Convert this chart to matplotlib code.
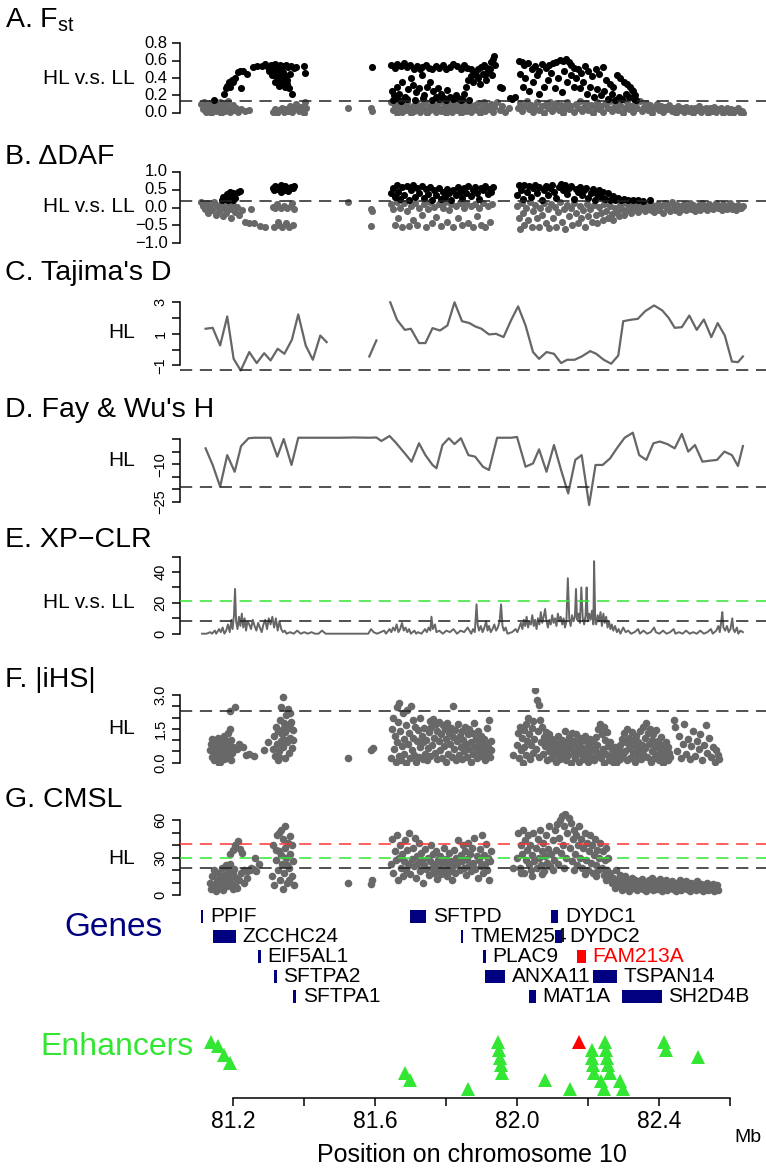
import matplotlib
matplotlib.use("Agg")
import matplotlib.pyplot as plt
from matplotlib.patches import Rectangle

plt.rcParams['font.family'] = ['Liberation Sans', 'DejaVu Sans']
plt.rcParams['mathtext.fontset'] = 'custom'
plt.rcParams['mathtext.rm'] = 'Liberation Sans'

W, H = 766, 1168
XLIM = (81.05, 82.70)
X0, X1 = 180, 766

GRAY = '#686868'
GREEN = '#33e633'
NAVY = '#000080'

# ---------------- A. Fst (HL vs LL) ----------------
fst_hi = [(81.145,0.15),(81.175,0.22),(81.180,0.28),(81.183,0.31),(81.188,0.35),(81.192,0.30),(81.196,0.38),
          (81.200,0.36),(81.205,0.40),(81.212,0.47),(81.218,0.48),(81.222,0.28),(81.228,0.48),(81.240,0.45),
          (81.255,0.53),(81.268,0.54),(81.282,0.54),(81.290,0.56),(81.298,0.53),(81.305,0.55),(81.312,0.54),
          (81.318,0.56),(81.325,0.53),(81.332,0.55),(81.340,0.54),(81.348,0.55),(81.355,0.53),(81.362,0.54),
          (81.370,0.52),(81.378,0.53),(81.300,0.48),(81.308,0.44),(81.315,0.50),(81.320,0.42),(81.325,0.46),
          (81.330,0.38),(81.335,0.40),(81.338,0.34),(81.342,0.36),(81.345,0.30),(81.350,0.33),(81.352,0.38),
          (81.356,0.28),(81.360,0.45),(81.365,0.22),(81.318,0.36),(81.328,0.31),(81.348,0.42),(81.340,0.47),
          (81.330,0.50),(81.400,0.54),(81.402,0.46),(81.590,0.53),
          (81.645,0.55),(81.655,0.52),(81.662,0.56),(81.672,0.54),(81.680,0.57),(81.690,0.53),(81.698,0.55),
          (81.708,0.51),(81.716,0.54),(81.725,0.50),(81.732,0.53),(81.742,0.55),(81.752,0.52),(81.760,0.50),
          (81.770,0.54),(81.780,0.52),(81.790,0.55),(81.800,0.50),(81.810,0.53),(81.820,0.56),(81.830,0.54),
          (81.840,0.51),(81.850,0.55),(81.858,0.52),(81.868,0.50),(81.878,0.47),(81.888,0.50),(81.898,0.53),
          (81.906,0.55),(81.915,0.52),(81.648,0.25),(81.652,0.20),(81.660,0.30),(81.668,0.22),(81.676,0.35),
          (81.684,0.18),(81.692,0.27),(81.700,0.40),(81.706,0.32),(81.714,0.24),(81.722,0.28),(81.730,0.43),
          (81.738,0.20),(81.746,0.30),(81.754,0.36),(81.762,0.25),(81.770,0.18),(81.776,0.29),(81.786,0.22),
          (81.794,0.17),(81.802,0.26),(81.810,0.18),(81.818,0.16),(81.826,0.20),(81.834,0.17),(81.842,0.15),
          (81.850,0.22),(81.856,0.30),(81.862,0.38),(81.870,0.42),(81.876,0.36),(81.884,0.44),(81.890,0.40),
          (81.896,0.33),(81.902,0.45),(81.908,0.43),(81.912,0.38),(81.918,0.48),(81.924,0.50),(81.928,0.44),
          (81.650,0.15),(81.660,0.17),(81.672,0.14),(81.690,0.16),(81.712,0.15),(81.735,0.17),(81.760,0.15),
          (81.780,0.16),(81.800,0.15),(81.822,0.17),(81.845,0.16),(81.865,0.15),(81.930,0.62),(81.934,0.66),
          (81.926,0.58),(81.936,0.55),(81.950,0.30),(81.958,0.28),(81.978,0.17),(81.985,0.16),(81.992,0.18),
          (82.005,0.60),(82.012,0.58),(82.020,0.55),(82.030,0.57),(82.040,0.50),(82.050,0.54),(82.060,0.48),
          (82.070,0.56),(82.080,0.52),(82.090,0.55),(82.100,0.57),(82.110,0.59),(82.120,0.61),(82.128,0.60),
          (82.136,0.62),(82.144,0.58),(82.152,0.55),(82.160,0.52),(82.170,0.50),(82.180,0.46),(82.190,0.54),
          (82.200,0.48),(82.210,0.42),(82.220,0.50),(82.230,0.45),(82.240,0.53),(82.250,0.38),(82.260,0.33),
          (82.270,0.30),(82.280,0.44),(82.290,0.40),(82.300,0.36),(82.310,0.33),(82.318,0.30),(82.325,0.25),
          (82.330,0.20),(82.008,0.45),(82.015,0.30),(82.022,0.40),(82.032,0.25),(82.045,0.35),(82.055,0.44),
          (82.062,0.22),(82.075,0.30),(82.085,0.38),(82.095,0.46),(82.105,0.28),(82.115,0.40),(82.125,0.24),
          (82.132,0.48),(82.140,0.35),(82.150,0.44),(82.158,0.30),(82.165,0.40),(82.175,0.28),(82.185,0.36),
          (82.195,0.22),(82.205,0.30),(82.215,0.18),(82.225,0.27),(82.235,0.20),(82.245,0.25),(82.255,0.16),
          (82.265,0.22),(82.275,0.15),(82.285,0.18),(82.295,0.16),(82.305,0.22),(82.315,0.18),(82.322,0.26),
          (82.328,0.16),(82.335,0.15)]
fst_lo = [(81.110,0.10),(81.114,0.04),(81.118,0.12),(81.122,0.01),(81.126,0.07),(81.130,0.03),(81.134,0.11),
          (81.138,0.00),(81.142,0.06),(81.146,0.13),(81.150,0.02),(81.154,0.08),(81.158,0.04),(81.162,0.12),
          (81.166,0.00),(81.170,0.06),(81.174,0.10),(81.178,0.02),(81.182,0.07),(81.186,0.13),(81.190,0.01),
          (81.194,0.05),(81.198,0.09),(81.202,0.03),(81.208,0.06),(81.214,0.01),(81.222,0.04),(81.232,0.02),
          (81.245,0.03),(81.312,0.01),(81.318,0.04),(81.324,0.00),(81.330,0.03),(81.336,0.06),(81.342,0.01),
          (81.348,0.04),(81.354,0.02),(81.360,0.08),(81.366,0.01),(81.372,0.05),(81.378,0.10),(81.384,0.02),
          (81.390,0.07),(81.396,0.03),(81.402,0.12),(81.406,0.05),(81.400,0.00),(81.523,0.05),(81.587,0.06),
          (81.592,0.02),(81.645,0.12),(81.650,0.03),(81.655,0.08),(81.660,0.00),(81.665,0.10),(81.670,0.05),
          (81.675,0.01),(81.680,0.09),(81.685,0.03),(81.690,0.12),(81.695,0.06),(81.700,0.00),(81.705,0.08),
          (81.710,0.02),(81.715,0.11),(81.720,0.05),(81.725,0.01),(81.730,0.09),(81.735,0.04),(81.740,0.12),
          (81.745,0.00),(81.750,0.07),(81.755,0.03),(81.760,0.10),(81.765,0.05),(81.770,0.01),(81.775,0.08),
          (81.780,0.12),(81.785,0.02),(81.790,0.06),(81.795,0.10),(81.800,0.00),(81.805,0.04),(81.810,0.09),
          (81.815,0.01),(81.820,0.06),(81.825,0.11),(81.830,0.03),(81.835,0.08),(81.840,0.00),(81.845,0.05),
          (81.850,0.12),(81.855,0.02),(81.860,0.07),(81.865,0.10),(81.870,0.01),(81.875,0.05),(81.880,0.09),
          (81.885,0.03),(81.890,0.11),(81.895,0.00),(81.900,0.06),(81.905,0.12),(81.910,0.02),(81.915,0.08),
          (81.920,0.04),(81.925,0.10),(81.930,0.01),(81.935,0.07),(81.942,0.12),(81.950,0.03),(81.958,0.08),
          (81.965,0.01),(81.975,0.05),(82.002,0.05),(82.008,0.11),(82.014,0.02),(82.020,0.08),(82.026,0.13),
          (82.032,0.04),(82.038,0.09),(82.044,0.01),(82.050,0.06),(82.056,0.12),(82.062,0.03),(82.068,0.08),
          (82.074,0.00),(82.080,0.10),(82.086,0.05),(82.092,0.12),(82.098,0.02),(82.104,0.07),(82.110,0.11),
          (82.116,0.03),(82.122,0.09),(82.128,0.00),(82.134,0.06),(82.140,0.12),(82.146,0.04),(82.152,0.08),
          (82.158,0.01),(82.164,0.10),(82.170,0.05),(82.176,0.13),(82.182,0.02),(82.188,0.07),(82.194,0.11),
          (82.200,0.03),(82.206,0.09),(82.212,0.00),(82.218,0.06),(82.224,0.12),(82.230,0.04),(82.236,0.08),
          (82.242,0.01),(82.248,0.10),(82.254,0.05),(82.260,0.13),(82.266,0.02),(82.272,0.07),(82.278,0.11),
          (82.284,0.03),(82.290,0.09),(82.296,0.00),(82.302,0.06),(82.308,0.12),(82.314,0.04),(82.320,0.08),
          (82.326,0.01),(82.332,0.10),(82.338,0.05),(82.344,0.13),(82.350,0.02),(82.356,0.07),(82.362,0.11),
          (82.368,0.03),(82.374,0.09),(82.380,0.00),(82.386,0.06),(82.392,0.10),(82.398,0.03),(82.404,0.08),
          (82.410,0.01),(82.416,0.07),(82.422,0.04),(82.428,0.09),(82.434,0.02),(82.440,0.06),(82.446,0.00),
          (82.452,0.08),(82.458,0.03),(82.464,0.05),(82.470,0.01),(82.476,0.07),(82.482,0.02),(82.488,0.05),
          (82.494,0.00),(82.500,0.06),(82.506,0.03),(82.512,0.08),(82.518,0.01),(82.524,0.04),(82.530,0.06),
          (82.536,0.00),(82.542,0.05),(82.548,0.02),(82.554,0.07),(82.560,0.01),(82.566,0.04),(82.572,0.06),
          (82.578,0.00),(82.584,0.03),(82.590,0.05),(82.596,0.01),(82.602,0.04),(82.608,0.00),(82.614,0.03),
          (82.620,0.05),(82.626,0.01),(82.632,0.02),(82.636,0.00)]
fst_cut = 0.14

# ---------------- B. delta DAF ----------------
daf_hi = [(81.168,0.22),(81.172,0.30),(81.178,0.25),(81.183,0.38),(81.188,0.33),(81.192,0.45),(81.198,0.40),
          (81.205,0.28),(81.212,0.43),(81.220,0.47),(81.186,0.20),(81.200,0.22),(81.312,0.55),(81.318,0.60),
          (81.322,0.52),(81.328,0.58),(81.333,0.62),(81.338,0.55),(81.342,0.50),(81.347,0.60),(81.352,0.56),
          (81.357,0.52),(81.362,0.58),(81.367,0.54),(81.370,0.60),(81.315,0.48),(81.335,0.45),(81.355,0.47),
          (81.645,0.40),(81.650,0.55),(81.655,0.30),(81.660,0.62),(81.665,0.45),(81.670,0.25),(81.676,0.58),
          (81.682,0.35),(81.688,0.60),(81.694,0.22),(81.700,0.50),(81.706,0.62),(81.712,0.30),(81.718,0.55),
          (81.724,0.42),(81.730,0.60),(81.736,0.28),(81.742,0.52),(81.748,0.38),(81.754,0.58),(81.760,0.22),
          (81.766,0.48),(81.772,0.35),(81.778,0.55),(81.784,0.25),(81.790,0.45),(81.796,0.30),(81.802,0.52),
          (81.808,0.40),(81.814,0.22),(81.820,0.50),(81.826,0.35),(81.832,0.58),(81.838,0.45),(81.844,0.28),
          (81.850,0.55),(81.856,0.40),(81.862,0.60),(81.868,0.32),(81.874,0.50),(81.880,0.58),(81.886,0.42),
          (81.892,0.25),(81.898,0.55),(81.904,0.48),(81.910,0.60),(81.916,0.38),(81.922,0.52),(81.926,0.45),
          (81.930,0.58),(82.000,0.35),(82.005,0.62),(82.010,0.50),(82.015,0.25),(82.020,0.64),(82.026,0.45),
          (82.032,0.60),(82.038,0.30),(82.044,0.55),(82.050,0.62),(82.056,0.40),(82.062,0.58),(82.068,0.22),
          (82.074,0.50),(82.080,0.60),(82.086,0.35),(82.092,0.55),(82.098,0.62),(82.104,0.45),(82.110,0.28),
          (82.116,0.58),(82.122,0.65),(82.128,0.50),(82.134,0.62),(82.140,0.38),(82.146,0.55),(82.152,0.60),
          (82.158,0.25),(82.164,0.52),(82.170,0.45),(82.176,0.58),(82.182,0.35),(82.188,0.50),(82.194,0.55),
          (82.200,0.28),(82.206,0.42),(82.212,0.52),(82.218,0.22),(82.224,0.38),(82.230,0.48),(82.236,0.30),
          (82.242,0.45),(82.248,0.25),(82.254,0.40),(82.260,0.20),(82.268,0.32),(82.276,0.22),(82.284,0.28),
          (82.292,0.20),(82.300,0.24),(82.312,0.21),(82.325,0.20),(82.340,0.21),(82.355,0.19),(82.372,0.20)]
daf_lo = [(81.110,0.15),(81.115,0.05),(81.120,-0.05),(81.125,0.12),(81.130,-0.15),(81.135,0.02),(81.140,-0.08),
          (81.145,0.15),(81.150,-0.20),(81.155,0.05),(81.160,-0.10),(81.165,0.10),(81.170,-0.25),(81.175,0.00),
          (81.180,-0.15),(81.185,0.12),(81.190,-0.05),(81.195,-0.30),(81.200,0.08),(81.205,-0.12),(81.210,0.02),
          (81.215,-0.20),(81.225,-0.08),(81.232,-0.42),(81.245,-0.45),(81.258,-0.45),(81.275,-0.52),(81.288,-0.55),
          (81.250,-0.05),(81.312,0.02),(81.318,-0.02),(81.322,0.10),(81.328,-0.50),(81.333,0.00),(81.338,-0.55),
          (81.342,0.05),(81.348,-0.45),(81.352,-0.02),(81.357,-0.55),(81.362,0.03),(81.367,-0.50),(81.370,-0.05),
          (81.365,0.12),(81.325,-0.40),(81.315,-0.55),(81.523,0.15),(81.587,-0.04),(81.590,-0.10),(81.588,-0.52),
          (81.645,0.10),(81.650,-0.05),(81.655,-0.50),(81.660,0.15),(81.665,-0.30),(81.670,0.00),(81.676,-0.55),
          (81.682,0.12),(81.688,-0.10),(81.694,-0.52),(81.700,0.05),(81.706,-0.35),(81.712,0.14),(81.718,-0.50),
          (81.724,0.00),(81.730,-0.20),(81.736,0.10),(81.742,-0.55),(81.748,-0.05),(81.754,0.15),(81.760,-0.45),
          (81.766,0.02),(81.772,-0.28),(81.778,0.10),(81.784,-0.52),(81.790,0.00),(81.796,0.15),(81.802,-0.40),
          (81.808,-0.08),(81.814,0.10),(81.820,-0.55),(81.826,0.05),(81.832,-0.30),(81.838,0.14),(81.844,-0.50),
          (81.850,-0.02),(81.856,0.12),(81.862,-0.45),(81.868,0.05),(81.874,-0.55),(81.880,0.10),(81.886,-0.25),
          (81.892,0.00),(81.898,-0.50),(81.904,0.12),(81.910,-0.55),(81.916,0.05),(81.922,-0.40),(81.928,0.10),
          (82.000,0.05),(82.004,-0.30),(82.008,-0.60),(82.012,0.12),(82.016,-0.15),(82.020,-0.50),(82.025,0.00),
          (82.030,-0.35),(82.035,0.15),(82.040,-0.55),(82.045,-0.10),(82.050,0.08),(82.055,-0.30),(82.060,-0.55),
          (82.065,0.00),(82.070,-0.20),(82.075,0.12),(82.080,-0.45),(82.085,-0.05),(82.090,-0.58),(82.095,0.10),
          (82.100,-0.30),(82.105,0.02),(82.110,-0.55),(82.115,-0.12),(82.120,0.15),(82.125,-0.40),(82.130,-0.05),
          (82.135,-0.60),(82.140,0.08),(82.145,-0.25),(82.150,0.00),(82.155,-0.50),(82.160,0.12),(82.165,-0.15),
          (82.170,-0.45),(82.175,0.05),(82.180,-0.30),(82.185,-0.08),(82.190,-0.55),(82.195,0.10),(82.200,-0.25),
          (82.205,-0.05),(82.210,-0.40),(82.215,0.08),(82.220,-0.20),(82.225,-0.45),(82.230,0.02),(82.235,-0.15),
          (82.240,-0.35),(82.245,0.10),(82.250,-0.10),(82.255,-0.30),(82.260,0.05),(82.265,-0.18),(82.270,-0.35),
          (82.275,0.00),(82.280,-0.12),(82.285,-0.25),(82.290,0.08),(82.295,-0.05),(82.300,-0.20),(82.305,0.12),
          (82.310,-0.08),(82.315,0.02),(82.320,-0.15),(82.325,0.10),(82.330,-0.05),(82.335,0.05),(82.340,-0.12),
          (82.345,0.12),(82.350,-0.02),(82.355,0.08),(82.360,-0.10),(82.365,0.03),(82.370,0.14),(82.375,-0.06),
          (82.380,0.06),(82.385,-0.12),(82.390,0.00),(82.395,0.10),(82.400,-0.08),(82.405,0.04),(82.410,-0.15),
          (82.415,0.12),(82.420,-0.02),(82.425,0.06),(82.430,-0.10),(82.435,0.15),(82.440,0.00),(82.445,-0.06),
          (82.450,0.08),(82.455,-0.12),(82.460,0.04),(82.465,-0.04),(82.470,0.10),(82.475,-0.08),(82.480,0.02),
          (82.485,0.13),(82.490,-0.05),(82.495,0.06),(82.500,-0.10),(82.505,0.00),(82.510,0.08),(82.515,-0.06),
          (82.520,0.12),(82.525,-0.02),(82.530,0.04),(82.535,-0.08),(82.540,0.10),(82.545,0.00),(82.550,-0.05),
          (82.555,0.06),(82.560,0.13),(82.565,-0.02),(82.570,0.04),(82.575,-0.08),(82.580,0.09),(82.585,0.00),
          (82.590,-0.04),(82.595,0.05),(82.600,0.12),(82.605,-0.03),(82.610,0.03),(82.615,-0.06),(82.620,0.08),
          (82.625,0.00),(82.630,-0.02),(82.635,0.04)]
daf_cut = 0.18

# ---------------- C. Tajima's D (HL), three runs with gaps ----------------
tajima_run1 = [(81.122,1.32),(81.142,1.38),(81.163,0.26),(81.183,2.10),(81.201,-0.59),(81.221,-1.33),
               (81.245,-0.16),(81.266,-0.86),(81.287,-0.23),(81.305,-0.69),(81.325,0.05),(81.344,-0.27),
               (81.365,0.62),(81.383,2.23),(81.404,0.26),(81.424,-0.65),(81.445,0.89),(81.463,0.47)]
tajima_run2 = [(81.583,-0.44),(81.603,0.58)]
tajima_run3 = [(81.642,3.00),(81.661,1.89),(81.683,1.25),(81.700,1.32),(81.723,0.41),(81.741,0.41),
               (81.761,1.36),(81.782,1.21),(81.803,1.53),(81.823,3.00),(81.844,1.80),(81.865,1.68),
               (81.881,1.47),(81.899,1.32),(81.920,0.96),(81.940,1.00),(81.961,0.79),(81.982,1.85),
               (82.002,2.74),(82.023,1.53),(82.044,-0.16),(82.061,-0.59),(82.082,-0.16),(82.103,-0.27),
               (82.123,-0.86),(82.140,-0.65),(82.161,-0.65),(82.181,-0.44),(82.205,-0.10),(82.222,-0.27),
               (82.243,-0.65),(82.264,-0.90),(82.284,-0.38),(82.298,1.80),(82.319,1.89),(82.339,1.95),
               (82.360,2.44),(82.385,2.80),(82.408,2.48),(82.426,2.01),(82.443,1.38),(82.463,1.42),
               (82.484,2.16),(82.505,1.25),(82.525,1.91),(82.546,0.79),(82.564,1.68),(82.584,0.89),
               (82.604,-0.76),(82.621,-0.80),(82.635,-0.44)]
tajima_cut = -1.3

# ---------------- D. Fay & Wu's H (HL) ----------------
faywu = [(81.122,-3.7),(81.142,-10.3),(81.163,-18.9),(81.183,-6.4),(81.204,-13.0),(81.222,-2.8),(81.243,0.3),
         (81.259,0.5),(81.287,0.5),(81.305,0.5),(81.324,-7.0),(81.342,0.0),(81.364,-10.3),(81.383,0.5),
         (81.420,0.5),(81.460,0.5),(81.500,0.5),(81.540,0.6),(81.583,0.5),(81.603,0.6),(81.617,-0.8),
         (81.640,1.2),(81.658,-1.5),(81.683,-5.7),(81.702,-9.0),(81.723,-1.7),(81.741,-6.4),(81.761,-10.3),
         (81.772,-11.6),(81.789,-2.4),(81.807,0.3),(81.823,-2.0),(81.841,0.3),(81.862,-6.4),(81.881,-7.0),
         (81.903,-11.0),(81.920,-12.3),(81.943,0.5),(81.961,0.5),(81.982,0.5),(81.999,0.8),(82.023,-11.0),
         (82.044,-9.7),(82.061,-4.1),(82.082,-13.0),(82.103,-2.4),(82.123,-12.3),(82.143,-21.6),(82.163,-8.3),
         (82.181,-6.4),(82.202,-26.2),(82.220,-10.3),(82.240,-10.3),(82.261,-7.7),(82.280,-3.7),(82.302,0.5),
         (82.325,2.5),(82.343,-6.4),(82.363,-8.3),(82.383,-1.7),(82.401,-1.0),(82.422,-2.0),(82.443,-3.7),
         (82.463,2.0),(82.481,-5.0),(82.500,-2.4),(82.521,-9.0),(82.542,-8.6),(82.562,-8.3),(82.583,-5.0),
         (82.604,-6.4),(82.621,-10.7),(82.635,-2.8)]
faywu_cut = -19

# ---------------- E. XP-CLR (HL vs LL) ----------------
xpclr = [(81.112,0),(81.125,0),(81.135,1),(81.140,0),(81.148,2),(81.152,0),(81.160,3),(81.165,1),(81.170,4),
         (81.175,0),(81.180,2),(81.185,6),(81.190,1),(81.195,9),(81.198,3),(81.202,12),(81.205,29),(81.208,8),
         (81.212,3),(81.216,11),(81.220,5),(81.224,13),(81.228,4),(81.232,10),(81.236,2),(81.240,8),(81.245,6),
         (81.250,3),(81.255,9),(81.260,5),(81.265,2),(81.270,7),(81.275,4),(81.280,1),(81.285,6),(81.290,9),
         (81.295,3),(81.300,10),(81.305,6),(81.310,11),(81.315,4),(81.320,10),(81.325,2),(81.330,8),(81.335,3),
         (81.340,1),(81.345,2),(81.350,0),(81.360,1),(81.370,0),(81.380,2),(81.390,0),(81.400,1),(81.410,0),
         (81.420,1),(81.430,0),(81.440,0),(81.450,2),(81.460,0),(81.480,0),(81.500,0),(81.520,0),(81.540,0),
         (81.560,0),(81.580,0),(81.588,3),(81.595,1),(81.605,0),(81.615,1),(81.625,2),(81.630,0),(81.640,3),
         (81.645,1),(81.650,4),(81.655,2),(81.660,6),(81.665,1),(81.670,3),(81.675,7),(81.680,2),(81.685,4),
         (81.690,1),(81.695,3),(81.700,0),(81.710,2),(81.715,0),(81.720,1),(81.730,0),(81.740,3),(81.745,1),
         (81.750,4),(81.755,2),(81.758,11),(81.762,3),(81.768,6),(81.772,1),(81.780,2),(81.790,0),(81.800,2),
         (81.810,1),(81.820,3),(81.830,0),(81.840,2),(81.850,1),(81.860,4),(81.865,2),(81.870,0),(81.875,3),
         (81.880,1),(81.885,19),(81.888,6),(81.892,2),(81.897,5),(81.902,1),(81.907,4),(81.912,8),(81.916,2),
         (81.920,5),(81.925,1),(81.930,3),(81.935,6),(81.940,2),(81.945,4),(81.950,8),(81.954,19),(81.958,5),
         (81.962,2),(81.967,4),(81.972,0),(81.985,1),(81.995,3),(82.000,1),(82.005,4),(82.010,7),(82.014,3),
         (82.018,9),(82.022,5),(82.026,11),(82.030,4),(82.034,8),(82.038,6),(82.042,12),(82.046,5),(82.050,9),
         (82.054,3),(82.058,10),(82.062,6),(82.066,14),(82.070,7),(82.074,11),(82.078,16),(82.082,8),(82.086,4),
         (82.090,9),(82.094,6),(82.098,12),(82.102,7),(82.106,10),(82.110,5),(82.114,13),(82.118,8),(82.122,11),
         (82.126,6),(82.130,10),(82.134,4),(82.138,8),(82.142,36),(82.146,10),(82.150,5),(82.154,12),(82.158,8),
         (82.162,11),(82.165,29),(82.168,9),(82.172,13),(82.176,7),(82.180,30),(82.184,10),(82.188,6),(82.192,12),
         (82.195,30),(82.198,8),(82.202,13),(82.206,9),(82.210,15),(82.214,6),(82.216,47),(82.219,10),(82.222,6),
         (82.226,12),(82.230,8),(82.234,14),(82.238,5),(82.242,13),(82.246,7),(82.250,11),(82.254,4),(82.258,8),
         (82.262,3),(82.266,6),(82.270,2),(82.275,5),(82.280,1),(82.285,3),(82.290,0),(82.298,4),(82.305,1),
         (82.312,2),(82.320,0),(82.330,1),(82.340,3),(82.345,0),(82.355,2),(82.365,0),(82.375,1),(82.385,4),
         (82.390,1),(82.400,0),(82.410,2),(82.420,0),(82.430,1),(82.440,3),(82.445,0),(82.455,1),(82.465,0),
         (82.475,2),(82.485,0),(82.495,1),(82.505,0),(82.515,2),(82.525,0),(82.535,1),(82.545,3),(82.550,0),
         (82.560,2),(82.566,5),(82.570,1),(82.574,8),(82.577,14),(82.580,4),(82.585,2),(82.590,5),(82.595,1),
         (82.600,3),(82.605,10),(82.608,3),(82.612,1),(82.618,4),(82.622,0),(82.628,2),(82.635,1)]
xpclr_cut_green = 21
xpclr_cut_black = 8

# ---------------- F. |iHS| (HL) ----------------
ihs = [(81.135,0.55),(81.137,0.85),(81.139,0.25),(81.141,1.05),(81.143,0.60),(81.145,0.10),(81.147,0.75),
       (81.149,0.40),(81.151,0.95),(81.153,0.20),(81.155,0.65),(81.157,1.10),(81.159,0.35),(81.161,0.80),
       (81.163,0.05),(81.165,0.50),(81.167,0.90),(81.169,0.30),(81.171,0.70),(81.173,1.20),(81.175,0.15),
       (81.177,0.60),(81.179,0.95),(81.181,0.40),(81.183,0.75),(81.185,1.30),(81.187,0.25),(81.189,0.85),
       (81.191,0.55),(81.193,0.10),(81.195,1.00),(81.197,0.45),(81.199,0.70),(81.150,0.50),(81.160,0.00),
       (81.170,1.00),(81.180,0.20),(81.190,1.50),(81.192,2.30),(81.205,2.45),(81.210,0.60),(81.215,0.85),
       (81.228,0.70),(81.235,0.35),(81.245,0.40),(81.259,0.28),(81.287,0.56),(81.298,0.90),
       (81.312,0.60),(81.315,1.20),(81.318,0.30),(81.320,1.60),(81.322,0.85),(81.325,0.10),(81.327,1.40),
       (81.329,0.50),(81.331,1.90),(81.333,0.95),(81.335,2.45),(81.337,1.25),(81.339,2.92),(81.341,0.70),
       (81.343,1.75),(81.345,0.20),(81.347,1.35),(81.349,2.10),(81.351,0.90),(81.353,1.55),(81.355,2.40),
       (81.357,0.45),(81.359,1.10),(81.361,2.20),(81.363,1.80),(81.365,0.65),(81.367,1.45),(81.369,1.00),
       (81.330,0.25),(81.345,1.00),(81.360,1.70),(81.340,1.50),(81.523,0.19),(81.589,0.56),(81.593,0.66),
       (81.645,0.20),(81.648,1.50),(81.650,2.00),(81.652,0.60),(81.655,1.20),(81.657,0.05),(81.660,2.45),
       (81.662,0.90),(81.664,1.80),(81.666,0.30),(81.668,2.63),(81.670,1.40),(81.672,0.10),(81.675,0.75),
       (81.677,2.20),(81.680,1.05),(81.682,0.40),(81.685,1.65),(81.687,0.00),(81.690,2.33),(81.692,0.85),
       (81.695,1.30),(81.697,0.20),(81.700,2.50),(81.702,0.55),(81.705,1.90),(81.707,1.10),(81.710,0.35),
       (81.712,1.60),(81.715,0.05),(81.717,0.95),(81.720,1.45),(81.722,0.25),(81.725,2.00),(81.727,0.70),
       (81.730,1.20),(81.733,0.15),(81.735,0.90),(81.738,1.55),(81.740,0.40),(81.743,1.00),(81.746,0.10),
       (81.748,0.65),(81.750,1.35),(81.753,1.85),(81.755,0.30),(81.758,1.60),(81.760,0.80),(81.763,1.95),
       (81.765,1.10),(81.768,0.45),(81.770,1.70),(81.773,0.15),(81.775,1.40),(81.778,0.95),(81.780,1.80),
       (81.783,0.55),(81.785,1.25),(81.788,0.20),(81.790,1.65),(81.793,0.75),(81.795,1.50),(81.798,0.05),
       (81.800,1.05),(81.803,1.75),(81.805,0.40),(81.808,1.30),(81.810,0.85),(81.813,1.55),(81.815,0.25),
       (81.818,1.15),(81.820,2.50),(81.822,0.60),(81.825,1.45),(81.828,0.10),(81.830,0.95),(81.833,1.70),
       (81.835,0.35),(81.838,1.20),(81.840,0.70),(81.843,1.40),(81.845,0.15),(81.848,1.00),(81.850,0.50),
       (81.853,1.60),(81.855,0.85),(81.858,0.25),(81.860,1.25),(81.863,0.60),(81.865,1.50),(81.868,0.05),
       (81.870,0.90),(81.873,1.30),(81.875,0.40),(81.878,1.75),(81.880,0.70),(81.883,1.10),(81.885,0.20),
       (81.888,0.95),(81.890,1.40),(81.893,0.50),(81.895,0.80),(81.898,1.20),(81.900,0.30),(81.903,0.65),
       (81.905,1.05),(81.908,0.10),(81.910,0.85),(81.913,0.45),(81.915,1.55),(81.918,0.70),(81.920,1.90),
       (81.923,0.25),(81.925,0.95),(81.927,0.55),(81.989,0.34),
       (82.000,0.80),(82.003,1.30),(82.005,0.20),(82.008,1.60),(82.010,0.55),(82.013,1.10),(82.015,0.00),
       (82.018,1.45),(82.020,0.70),(82.023,1.70),(82.025,0.35),(82.028,0.95),(82.030,2.00),(82.033,1.25),
       (82.035,0.15),(82.038,0.80),(82.040,1.55),(82.043,0.45),(82.045,1.85),(82.048,1.05),(82.050,3.20),
       (82.052,0.60),(82.055,2.78),(82.058,1.40),(82.060,0.25),(82.062,2.55),(82.064,1.90),(82.067,0.90),
       (82.070,1.60),(82.072,0.40),(82.075,1.15),(82.078,0.75),(82.080,1.35),(82.083,0.10),(82.085,0.95),
       (82.088,0.50),(82.090,1.25),(82.093,0.80),(82.095,0.20),(82.098,1.05),(82.100,0.60),(82.103,0.35),
       (82.105,0.90),(82.108,0.05),(82.110,0.70),(82.113,1.20),(82.115,0.40),(82.118,0.85),(82.120,0.15),
       (82.123,0.60),(82.125,1.00),(82.128,0.30),(82.130,0.75),(82.133,1.40),(82.135,0.50),(82.138,0.10),
       (82.140,0.90),(82.143,0.35),(82.145,1.15),(82.148,0.65),(82.150,0.00),(82.153,0.80),(82.155,1.30),
       (82.158,0.45),(82.160,0.95),(82.163,0.20),(82.165,1.25),(82.168,0.55),(82.170,0.85),(82.173,0.05),
       (82.175,1.10),(82.178,0.40),(82.180,0.70),(82.183,1.00),(82.185,0.15),(82.188,0.60),(82.190,1.20),
       (82.193,0.30),(82.195,0.90),(82.198,0.50),(82.200,0.05),(82.203,0.75),(82.205,1.05),(82.208,0.25),
       (82.210,0.55),(82.213,0.95),(82.215,0.10),(82.218,0.65),(82.220,1.15),(82.223,0.35),(82.225,0.80),
       (82.228,1.50),(82.230,0.45),(82.233,1.70),(82.235,0.20),(82.238,1.25),(82.240,0.60),(82.243,1.60),
       (82.245,0.00),(82.248,1.00),(82.250,0.40),(82.253,1.35),(82.255,0.75),(82.258,0.10),(82.260,0.90),
       (82.263,0.30),(82.265,0.60),(82.268,0.05),(82.270,0.45),(82.273,0.20),(82.275,0.70),(82.278,0.00),
       (82.280,0.35),(82.283,0.10),(82.285,0.55),(82.288,0.15),(82.290,0.80),(82.293,0.25),(82.295,1.05),
       (82.298,0.40),(82.300,1.30),(82.303,0.50),(82.305,0.90),(82.308,0.10),(82.310,1.50),(82.313,0.65),
       (82.315,1.10),(82.318,0.20),(82.320,0.85),(82.323,1.35),(82.325,0.45),(82.328,1.00),(82.330,0.05),
       (82.333,0.70),(82.335,1.20),(82.338,0.30),(82.340,0.90),(82.343,0.55),(82.345,1.40),(82.348,0.15),
       (82.350,0.80),(82.353,1.60),(82.355,0.40),(82.358,1.10),(82.360,0.65),(82.363,1.75),(82.365,0.25),
       (82.368,1.30),(82.370,0.85),(82.373,1.50),(82.375,0.05),(82.378,1.00),(82.380,0.50),(82.383,1.25),
       (82.385,0.20),(82.388,0.75),(82.390,1.45),(82.393,0.35),(82.395,0.95),(82.398,0.10),(82.400,0.60),
       (82.403,1.15),(82.405,0.30),(82.408,0.80),(82.410,0.00),(82.413,0.55),(82.415,0.20),(82.418,0.90),
       (82.420,0.40),(82.423,0.70),(82.425,0.10),(82.428,0.45),(82.430,0.25),(82.440,1.90),(82.445,1.60),
       (82.450,0.50),(82.455,1.20),(82.460,0.20),(82.465,0.85),(82.470,1.70),(82.475,0.40),(82.480,1.05),
       (82.485,0.15),(82.490,0.75),(82.495,1.40),(82.500,0.30),(82.505,0.95),(82.510,0.60),(82.515,1.25),
       (82.520,0.10),(82.525,0.80),(82.530,1.65),(82.535,0.45),(82.540,1.10),(82.545,0.25),(82.550,0.70),
       (82.555,0.05),(82.560,0.55),(82.565,0.35),(82.567,0.15)]
ihs_cut = 2.3

# ---------------- G. CMSL (HL) ----------------
cmsl = [(81.135,10),(81.138,5),(81.141,15),(81.144,8),(81.147,20),(81.150,3),(81.153,12),(81.156,18),(81.159,6),
        (81.162,14),(81.165,9),(81.168,22),(81.171,4),(81.174,16),(81.177,11),(81.180,24),(81.183,7),(81.186,19),
        (81.189,13),(81.192,25),(81.195,10),(81.198,17),(81.201,21),(81.204,8),(81.207,14),(81.210,6),(81.150,9),
        (81.160,11),(81.170,13),(81.180,15),(81.190,8),(81.200,5),(81.192,33),(81.198,36),(81.205,40),(81.212,43),
        (81.218,37),(81.225,34),(81.215,12),(81.222,18),(81.230,20),(81.238,19),(81.246,20),(81.255,21),
        (81.265,19),(81.230,10),(81.240,14),(81.250,22),(81.260,30),(81.272,25),
        (81.310,15),(81.313,40),(81.316,8),(81.319,28),(81.322,48),(81.325,20),(81.328,35),(81.331,12),(81.334,52),
        (81.337,25),(81.340,45),(81.343,18),(81.346,38),(81.349,30),(81.352,10),(81.355,42),(81.358,22),(81.361,33),
        (81.364,15),(81.367,27),(81.370,8),(81.330,50),(81.345,55),(81.360,47),(81.335,32),(81.350,24),(81.365,40),
        (81.320,36),(81.340,5),(81.357,12),(81.523,10),(81.589,9),(81.592,12),
        (81.645,25),(81.648,45),(81.651,18),(81.654,35),(81.657,28),(81.660,48),(81.663,12),(81.666,30),(81.669,40),
        (81.672,22),(81.675,33),(81.678,15),(81.681,27),(81.684,44),(81.687,20),(81.690,36),(81.693,25),(81.696,50),
        (81.699,17),(81.702,29),(81.705,38),(81.708,23),(81.711,46),(81.714,14),(81.717,31),(81.720,26),(81.723,42),
        (81.726,19),(81.729,34),(81.732,28),(81.735,10),(81.738,24),(81.741,37),(81.744,21),(81.747,30),(81.750,16),
        (81.753,27),(81.756,40),(81.759,22),(81.762,33),(81.765,18),(81.768,25),(81.771,35),(81.774,13),(81.777,28),
        (81.780,21),(81.783,31),(81.786,17),(81.789,26),(81.792,38),(81.795,20),(81.798,29),(81.801,15),(81.804,24),
        (81.807,34),(81.810,19),(81.813,27),(81.816,12),(81.819,23),(81.822,36),(81.825,18),(81.828,30),(81.831,25),
        (81.834,44),(81.837,20),(81.840,32),(81.843,27),(81.846,40),(81.849,22),(81.852,35),(81.855,16),(81.858,29),
        (81.861,42),(81.864,24),(81.867,33),(81.870,19),(81.873,38),(81.876,26),(81.879,46),(81.882,21),(81.885,31),
        (81.888,14),(81.891,28),(81.894,37),(81.897,23),(81.900,48),(81.903,18),(81.906,32),(81.909,25),(81.912,41),
        (81.915,20),(81.918,30),(81.921,12),(81.924,27),(81.927,35),(81.989,22),
        (82.000,30),(82.003,50),(82.006,22),(82.009,40),(82.012,33),(82.015,52),(82.018,18),(82.021,44),(82.024,28),
        (82.027,36),(82.030,48),(82.033,25),(82.036,40),(82.039,20),(82.042,32),(82.045,50),(82.048,27),(82.051,38),
        (82.054,22),(82.057,45),(82.060,30),(82.063,52),(82.066,24),(82.069,35),(82.072,42),(82.075,19),(82.078,31),
        (82.081,48),(82.084,26),(82.087,37),(82.090,55),(82.093,23),(82.096,33),(82.099,44),(82.102,28),(82.105,52),
        (82.108,36),(82.111,57),(82.114,25),(82.117,46),(82.120,60),(82.123,34),(82.126,63),(82.129,40),(82.132,55),
        (82.135,65),(82.138,30),(82.141,50),(82.144,62),(82.147,38),(82.150,58),(82.153,27),(82.156,45),(82.159,52),
        (82.162,33),(82.165,48),(82.168,24),(82.171,40),(82.174,55),(82.177,30),(82.180,45),(82.183,22),(82.186,38),
        (82.189,50),(82.192,28),(82.195,42),(82.198,20),(82.201,35),(82.204,48),(82.207,26),(82.210,40),(82.213,18),
        (82.216,32),(82.219,45),(82.222,24),(82.225,36),(82.228,20),(82.231,30),(82.234,42),(82.237,22),(82.240,35),
        (82.243,16),(82.246,28),(82.249,38),(82.252,20),(82.255,30),(82.258,15),(82.010,18),(82.040,15),(82.070,17),
        (82.100,20),(82.130,22),(82.160,20),(82.190,17),(82.220,15),(82.250,12),
        (82.262,18),(82.266,10),(82.270,14),(82.274,6),(82.278,20),(82.282,12),(82.286,8),(82.290,16),(82.294,4),
        (82.298,11),(82.302,15),(82.306,7),(82.310,13),(82.314,3),(82.318,10),(82.322,14),(82.326,6),(82.330,12),
        (82.334,9),(82.338,4),(82.342,11),(82.346,7),(82.350,13),(82.354,5),(82.358,10),(82.362,3),(82.366,8),
        (82.370,12),(82.374,6),(82.378,14),(82.382,4),(82.386,9),(82.390,11),(82.394,5),(82.398,7),(82.402,13),
        (82.406,3),(82.410,10),(82.414,6),(82.418,12),(82.422,4),(82.426,9),(82.430,7),(82.434,11),(82.438,5),
        (82.442,8),(82.446,3),(82.450,10),(82.454,6),(82.458,12),(82.462,4),(82.466,9),(82.470,7),(82.474,11),
        (82.478,5),(82.482,8),(82.486,3),(82.490,10),(82.494,6),(82.498,9),(82.502,4),(82.506,11),(82.510,7),
        (82.514,5),(82.518,9),(82.522,3),(82.526,8),(82.530,6),(82.534,10),(82.538,4),(82.542,7),(82.546,5),
        (82.550,9),(82.554,3),(82.558,6),(82.562,8),(82.566,4)]
cmsl_cut_red = 41
cmsl_cut_green = 29.5
cmsl_cut_black = 21.5

# ---------------- genes: name, start, end (Mb), row ----------------
genes = [('PPIF', 81.109, 81.116, 0), ('ZCCHC24', 81.142, 81.207, 1), ('EIF5AL1', 81.270, 81.277, 2),
         ('SFTPA2', 81.316, 81.322, 3), ('SFTPA1', 81.369, 81.376, 4), ('SFTPD', 81.697, 81.744, 0),
         ('TMEM254', 81.840, 81.848, 1), ('PLAC9', 81.903, 81.911, 2), ('ANXA11', 81.910, 81.965, 3),
         ('MAT1A', 82.033, 82.051, 4), ('DYDC1', 82.095, 82.115, 0), ('DYDC2', 82.106, 82.126, 1),
         ('FAM213A', 82.168, 82.192, 2), ('TSPAN14', 82.213, 82.280, 3), ('SH2D4B', 82.295, 82.406, 4)]
highlight_gene = 'FAM213A'

# ---------------- enhancers: position (Mb), stacking level ----------------
enhancers = [(81.138,0.0),(81.156,0.6),(81.174,1.7),(81.190,2.7),(81.683,4.0),(81.697,4.8),(81.862,6.0),
             (81.945,0.0),(81.948,1.05),(81.950,2.1),(81.953,2.9),(81.958,4.0),(82.078,4.8),(82.147,6.0),
             (82.209,1.05),(82.211,2.1),(82.213,2.9),(82.215,4.0),(82.247,0.0),(82.249,1.05),(82.252,2.1),
             (82.256,2.9),(82.260,4.0),(82.236,5.0),(82.243,6.0),(82.288,5.0),(82.298,6.0),(82.412,0.0),
             (82.418,1.05),(82.509,1.9)]
enhancer_red = [(82.174, 0.0)]

x_ticks = [81.2, 81.4, 81.6, 81.8, 82.0, 82.2, 82.4, 82.6]
x_ticklabels = ['81.2', '', '81.6', '', '82.0', '', '82.4', '']


fig = plt.figure(figsize=(W / 100, H / 100), dpi=100)


def panel(v_a, y_a, v_b, y_b, lo, hi):
    # place an axes so that value v_a sits at pixel row y_a and v_b at y_b
    k = (y_b - y_a) / (v_b - v_a)
    top = y_a + (hi - v_a) * k
    bot = y_a + (lo - v_a) * k
    ax = fig.add_axes([X0 / W, 1 - bot / H, (X1 - X0) / W, (bot - top) / H])
    ax.set_xlim(XLIM)
    ax.set_ylim(lo, hi)
    ax.patch.set_visible(False)
    ax.set_xticks([])
    for s in ('top', 'right', 'bottom'):
        ax.spines[s].set_visible(False)
    return ax


def y_axis(ax, ticks, labels, rot):
    ax.spines['left'].set_bounds(ticks[0], ticks[-1])
    ax.spines['left'].set_linewidth(1.1)
    ax.set_yticks(ticks)
    ax.set_yticklabels(labels, rotation=rot, va='center')
    ax.tick_params(axis='y', length=6, width=1.1, pad=3, labelsize=12 if rot == 0 else 10.5)


def cut(ax, v, color='#222222'):
    ax.axhline(v, color=color, lw=1.1, dashes=(8, 5), zorder=3)


def dots(ax, pts, color, s=26):
    xs, ys = zip(*pts)
    ax.scatter(xs, ys, s=s, c=color, linewidths=0, zorder=2)


def line(ax, pts):
    xs, ys = zip(*pts)
    ax.plot(xs, ys, color='#666666', lw=1.6, zorder=2)


def title(y, text):
    fig.text(5 / W, 1 - y / H, text, ha='left', va='center', fontsize=20.5)


def side(y, text):
    fig.text(135 / W, 1 - y / H, text, ha='right', va='center', fontsize=15)


# A
ax = panel(0.0, 112.7, 0.8, 43.4, -0.03, 0.82)
y_axis(ax, [0, 0.2, 0.4, 0.6, 0.8], ['0.0', '0.2', '0.4', '0.6', '0.8'], 0)
dots(ax, fst_lo, GRAY)
dots(ax, fst_hi, 'black')
cut(ax, fst_cut)
title(20, 'A. F$_\\mathrm{st}$')
side(78, 'HL v.s. LL')

# B
ax = panel(-1.0, 243, 1.0, 172, -1.02, 1.02)
y_axis(ax, [-1, -0.5, 0, 0.5, 1], ['\u22121.0', '\u22120.5', '0.0', '0.5', '1.0'], 0)
dots(ax, daf_lo, GRAY)
dots(ax, daf_hi, 'black')
cut(ax, daf_cut)
title(157, 'B. \u0394DAF')
side(207, 'HL v.s. LL')

# C
ax = panel(-1, 365.3, 3, 302.3, -1.45, 3.1)
y_axis(ax, [-1, 0, 1, 2, 3], ['\u22121', '', '1', '', '3'], 90)
for run in (tajima_run1, tajima_run2, tajima_run3):
    line(ax, run)
cut(ax, tajima_cut)
title(273, "C. Tajima's D")
side(333, 'HL')

# D
ax = panel(-25, 502, 0, 439, -27.5, 3.5)
y_axis(ax, [-25, -20, -15, -10, -5, 0], ['\u221225', '', '', '\u221210', '', ''], 90)
line(ax, faywu)
cut(ax, faywu_cut)
title(410, "D. Fay & Wu's H")
side(461, 'HL')

# E
ax = panel(0, 633.7, 40, 572, -1, 51)
y_axis(ax, [0, 10, 20, 30, 40, 50], ['0', '', '20', '', '40', ''], 90)
xs, ys = zip(*xpclr)
ax.plot(xs, ys, color='#666666', lw=1.4, zorder=2)
cut(ax, xpclr_cut_green, GREEN)
cut(ax, xpclr_cut_black)
title(540, 'E. XP\u2212CLR')
side(602, 'HL v.s. LL')

# F
ax = panel(0, 762.7, 3, 695, -0.1, 3.3)
y_axis(ax, [0, 0.5, 1, 1.5, 2, 2.5, 3], ['0.0', '', '', '1.5', '', '', '3.0'], 90)
dots(ax, ihs, GRAY, s=30)
cut(ax, ihs_cut)
title(680, 'F. |iHS|')
side(728, 'HL')

# G
ax = panel(0, 895, 60, 820, -1, 67)
y_axis(ax, [0, 10, 20, 30, 40, 50, 60], ['0', '', '', '30', '', '', '60'], 90)
dots(ax, cmsl, GRAY, s=30)
cut(ax, cmsl_cut_red, '#ff3333')
cut(ax, cmsl_cut_green, GREEN)
cut(ax, cmsl_cut_black)
title(800, 'G. CMSL')
side(858, 'HL')

# genes track
g_top, g_bot, g_row0, g_step = 903, 1012, 916.7, 20
gax = fig.add_axes([X0 / W, 1 - g_bot / H, (X1 - X0) / W, (g_bot - g_top) / H])
gax.set_xlim(XLIM)
gax.set_ylim((g_bot - g_row0) / g_step, (g_top - g_row0) / g_step)
gax.axis('off')
for name, start, end, row in genes:
    col = 'red' if name == highlight_gene else NAVY
    gax.annotate(name, (end, row), xytext=(5, 0), textcoords='offset points',
                 ha='left', va='center', fontsize=15, color='red' if name == highlight_gene else 'black',
                 zorder=2)
    gax.add_patch(Rectangle((start, row - 0.32), end - start, 0.64, color=col, lw=0, zorder=3))
fig.text(114 / W, 1 - 927 / H, 'Genes', ha='center', va='center', fontsize=24, color=NAVY)

# enhancer track with the position axis
e_top, e_bot, e_lvl0, e_step = 1025, 1098, 1041.7, 7.9
eax = fig.add_axes([X0 / W, 1 - e_bot / H, (X1 - X0) / W, (e_bot - e_top) / H])
eax.set_xlim(XLIM)
eax.set_ylim((e_bot - e_lvl0) / e_step, (e_top - e_lvl0) / e_step)
eax.patch.set_visible(False)
for s in ('top', 'right', 'left'):
    eax.spines[s].set_visible(False)
eax.set_yticks([])
eax.spines['bottom'].set_bounds(x_ticks[0], x_ticks[-1])
eax.spines['bottom'].set_linewidth(1.1)
eax.set_xticks(x_ticks)
eax.set_xticklabels(x_ticklabels)
eax.tick_params(axis='x', length=6, width=1.1, pad=3, labelsize=16.5)
ex, ey = zip(*enhancers)
eax.plot(ex, ey, '^', color=GREEN, ms=10.5, mew=0, clip_on=False)
rx, ry = zip(*enhancer_red)
eax.plot(rx, ry, '^', color='red', ms=10.5, mew=0, clip_on=False)
fig.text(117 / W, 1 - 1047 / H, 'Enhancers', ha='center', va='center', fontsize=23, color=GREEN)

fig.text(748 / W, 1 - 1138 / H, 'Mb', ha='center', va='center', fontsize=14)
fig.text(472 / W, 1 - 1155 / H, 'Position on chromosome 10', ha='center', va='center', fontsize=18)

fig.savefig('out.png', dpi=100)
